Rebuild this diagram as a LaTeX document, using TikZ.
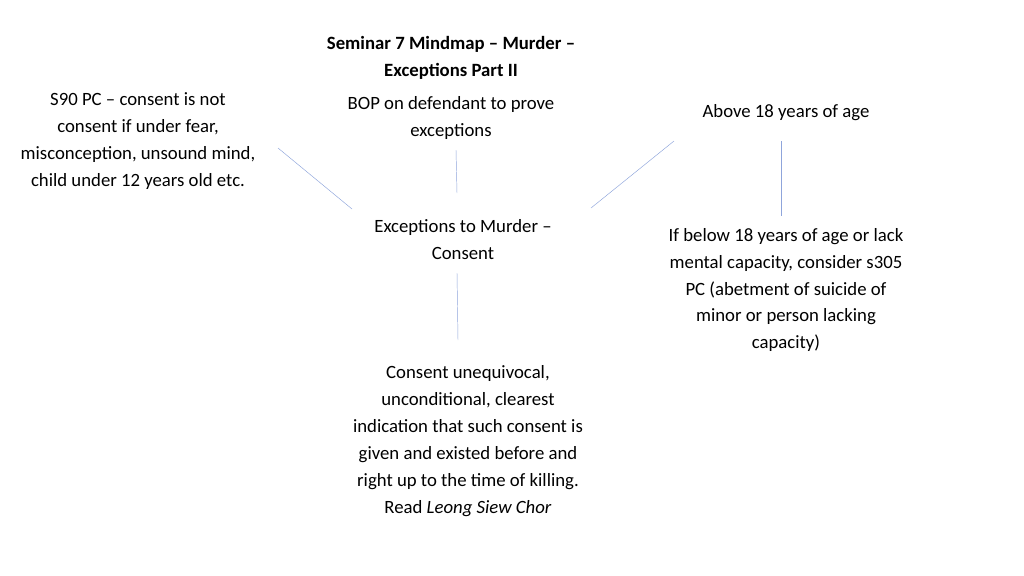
\documentclass[tikz,border=0pt]{standalone}
\usepackage{fontspec}
\setmainfont{Carlito}
\begin{document}
\begin{tikzpicture}[x=0.03cm, y=-0.03cm,
  idea/.style = {align=center, font=\fontsize{16}{23}\selectfont, inner sep=0pt},
  link/.style = {draw=cyan!40!blue!45, thin}]
\useasboundingbox (0,0) rectangle (1024,575);
\node[idea, font=\fontsize{16}{23}\selectfont\bfseries] (title) at (451,58) {Seminar 7 Mindmap -- Murder --\\ Exceptions Part II};
\node[idea] (sninety) at (138,141) {S90 PC -- consent is not\\ consent if under fear,\\ misconception, unsound mind,\\ child under 12 years old etc.};
\node[idea] (bop) at (451,118) {BOP on defendant to prove\\ exceptions};
\node[idea] (above) at (786,113) {Above 18 years of age};
\node[idea] (centre) at (463,240) {Exceptions to Murder --\\ Consent};
\node[idea] (below) at (786,290) {If below 18 years of age or lack\\ mental capacity, consider s305\\ PC (abetment of suicide of\\ minor or person lacking\\ capacity)};
\node[idea] (consent) at (468,441) {Consent unequivocal,\\ unconditional, clearest\\ indication that such consent is\\ given and existed before and\\ right up to the time of killing.\\ Read \textit{Leong Siew Chor}};
% line ends
\coordinate (a1) at (278,148); \coordinate (a2) at (352,209);
\coordinate (b1) at (456,150); \coordinate (b2) at (457,193);
\coordinate (c1) at (674,141); \coordinate (c2) at (591,208);
\coordinate (d1) at (781,141); \coordinate (d2) at (781,216);
\coordinate (e1) at (457,273); \coordinate (e2) at (458,340);
\draw[link] (a1) -- (a2);
\draw[link] (b1) -- (b2);
\draw[link] (c1) -- (c2);
\draw[link] (d1) -- (d2);
\draw[link] (e1) -- (e2);
\end{tikzpicture}
\end{document}
